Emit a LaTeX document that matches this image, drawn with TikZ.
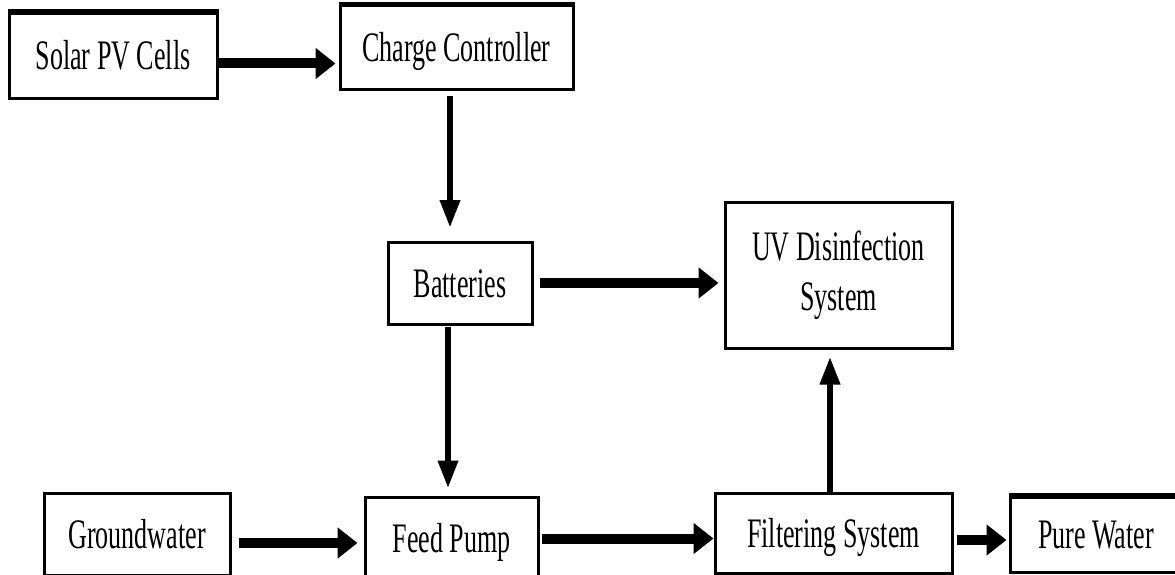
\documentclass[tikz,border=0pt]{standalone}
\usepackage{fontspec}
\setmainfont[FakeStretch=0.62]{Liberation Serif}
\usetikzlibrary{arrows.meta, calc, positioning}
\newcommand{\blockfont}{\fontsize{42}{50}\selectfont}
\tikzset{
   box/.style={draw, line width=3pt, inner sep=0pt, align=center, font=\blockfont},
   block/.style={box, text height=30pt, text depth=2pt},
   heavytop/.style={append after command={(\tikzlastnode.north west) edge[line width=5pt] (\tikzlastnode.north east)}},
   flow/.style={line width=10pt, -{Triangle[length=20pt, width=30pt]}},
   vflow/.style={line width=6.5pt, -{Triangle[length=28pt, width=19pt]}}
}

\begin{document}
\begin{tikzpicture}[x=1pt, y=-1pt]
            \useasboundingbox (0,0) rectangle (1175,575);
            % Power side
            \node[block, heavytop, minimum width=208pt, minimum height=85pt] (solar) at (113,56) {Solar PV Cells};
            \node[block, heavytop, minimum width=233pt, minimum height=84pt] (charge) at (456.5,48) {Charge Controller};
            \node[block, minimum width=144pt, minimum height=82pt] (batt) at (460,283) {Batteries};
            \node[box, minimum width=227pt, minimum height=146pt] (uv) at (838.5,275) {UV Disinfection\\System};
            % Water side
            \node[block, minimum width=186pt, minimum height=82pt] (ground) at (137,534) {Groundwater};
            \node[block, minimum width=173pt, minimum height=83pt] (pump) at (451.5,538.5) {Feed Pump};
            \node[block, minimum width=237pt, minimum height=80pt] (filter) at (833.5,533) {Filtering System};
            \node[block, heavytop, minimum width=172pt, minimum height=75pt] (pure) at (1096,534.5) {Pure Water};
            % Thick arrows
            \draw[flow, shorten >=3pt] ([yshift=-7.5pt]solar.east) -- ([yshift=-7.5pt]solar.east -| charge.west);
            \draw[flow, shorten <=6pt, shorten >=5pt] (batt.east) -- (batt.east -| uv.west);
            \draw[flow, shorten <=7pt, shorten >=6pt] ([yshift=-9pt]ground.east) -- ([yshift=-9pt]ground.east -| pump.west);
            \draw[flow, shorten <=2pt] (pump.east) -- (pump.east -| filter.west);
            \draw[flow, shorten <=3pt, shorten >=2pt] ([yshift=-7pt]filter.east) -- ([yshift=-7pt]filter.east -| pure.west);
            % Thin arrows
            \draw[vflow, shorten <=5pt] ([xshift=-6.5pt]charge.south) -- ([xshift=-6.5pt]charge.south |- 0,228);
            \draw[vflow, shorten <=1pt, shorten >=7pt] ([xshift=-12pt]batt.south) -- ([xshift=-12pt]batt.south |- pump.north);
            \draw[vflow, shorten >=7pt] ([xshift=-3.5pt]filter.north) -- ([xshift=-3.5pt]filter.north |- uv.south);
         \end{tikzpicture}
\end{document}
